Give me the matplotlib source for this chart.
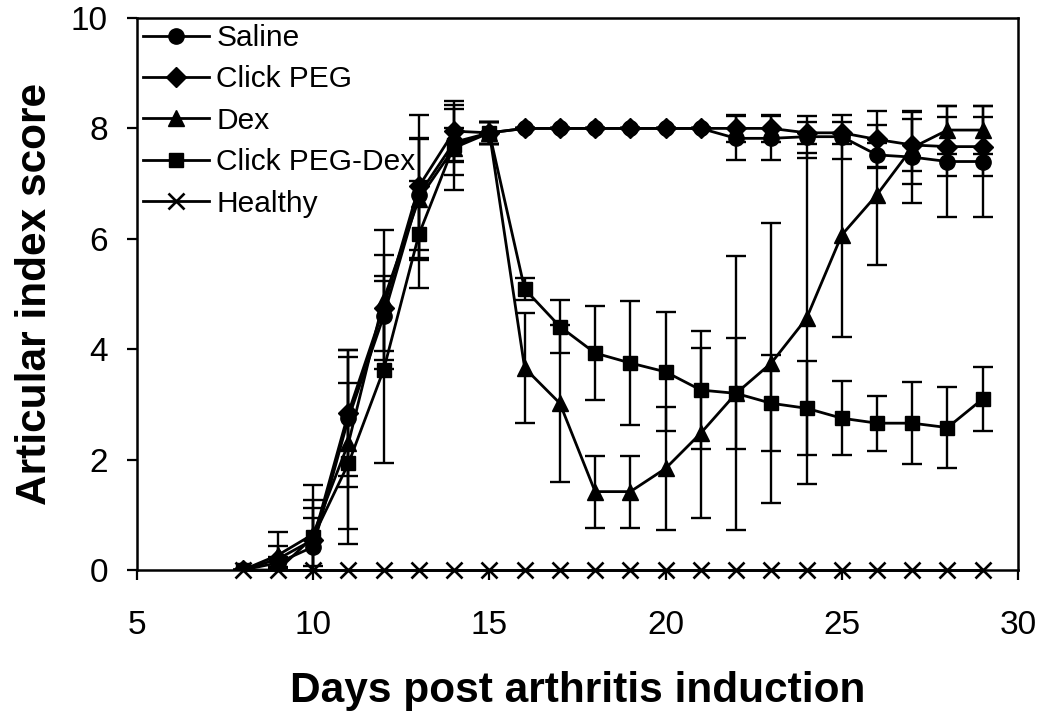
import matplotlib
matplotlib.use('Agg')
import matplotlib.pyplot as plt

plt.rcParams['font.family'] = ['Liberation Sans', 'DejaVu Sans']

days = [8, 9, 10, 11, 12, 13, 14, 15, 16, 17, 18, 19, 20, 21, 22, 23, 24, 25, 26, 27, 28, 29]

saline = [0, 0.13, 0.42, 2.75, 4.6, 6.8, 7.75, 7.92, 8.0, 8.0, 8.0, 8.0, 8.0, 8.0,
          7.82, 7.82, 7.85, 7.85, 7.52, 7.48, 7.4, 7.4]
saline_err = [0, 0.1, 0.52, 1.24, 0.63, 1.0, 0.6, 0.2, 0, 0, 0, 0, 0, 0,
              0.4, 0.4, 0.38, 0.4, 0.22, 0.83, 1.0, 1.0]

click_peg = [0, 0.2, 0.55, 2.85, 4.75, 6.95, 7.95, 7.92, 8.0, 8.0, 8.0, 8.0, 8.0, 8.0,
             8.0, 8.0, 7.92, 7.92, 7.8, 7.7, 7.67, 7.67]
click_peg_err = [0, 0.24, 0.72, 1.14, 0.95, 1.3, 0.54, 0.2, 0, 0, 0, 0, 0, 0,
                 0.25, 0.25, 0.2, 0.2, 0.52, 0.47, 0.53, 0.53]

dex = [0, 0.27, 0.65, 2.3, 4.9, 6.72, 7.65, 7.92, 3.66, 3.02, 1.42, 1.42, 1.84, 2.48,
       3.2, 3.75, 4.56, 6.07, 6.8, 7.65, 7.97, 7.97]
dex_err = [0, 0.41, 0.89, 1.55, 1.26, 1.1, 0.77, 0.2, 1.0, 1.42, 0.65, 0.65, 1.12, 1.54,
           2.48, 2.54, 3.0, 1.84, 1.27, 0.65, 0.44, 0.44]

peg_dex = [0, 0.0, 0.6, 1.93, 3.63, 6.08, 7.7, 7.92, 5.09, 4.41, 3.93, 3.75, 3.59, 3.26,
           3.2, 3.02, 2.93, 2.75, 2.66, 2.66, 2.58, 3.1]
peg_dex_err = [0, 0.05, 0.52, 1.46, 1.7, 0.97, 0.3, 0.2, 0.2, 0.48, 0.85, 1.12, 1.08, 1.07,
               1.0, 0.87, 0.85, 0.67, 0.5, 0.74, 0.73, 0.58]

healthy = [0] * len(days)

series = [
    ('Saline', saline, saline_err, 'o', 11),
    ('Click PEG', click_peg, click_peg_err, 'D', 10),
    ('Dex', dex, dex_err, '^', 12),
    ('Click PEG-Dex', peg_dex, peg_dex_err, 's', 10),
]

fig = plt.figure(figsize=(10.5, 7.23), dpi=100)
ax = fig.add_axes([0.1305, 0.2116, 0.839, 0.7635])

handles = []
for name, vals, err, mk, ms in series:
    ax.errorbar(days, vals, yerr=err, fmt='none', ecolor='black', elinewidth=1.7,
                capsize=7, capthick=1.7, zorder=2)
    h, = ax.plot(days, vals, color='black', lw=2.0, marker=mk, markersize=ms,
                 markerfacecolor='black', markeredgecolor='black', zorder=3, label=name)
    handles.append(h)

h, = ax.plot(days, healthy, color='black', lw=2.0, marker='x', markersize=11,
             markeredgewidth=1.9, zorder=3, label='Healthy', clip_on=False)
handles.append(h)

ax.set_xlim(5, 30)
ax.set_ylim(0, 10)
ax.set_xticks([5, 10, 15, 20, 25, 30])
ax.set_yticks([0, 2, 4, 6, 8, 10])

for s in ax.spines.values():
    s.set_linewidth(1.8)
ax.tick_params(axis='both', direction='out', length=7, width=1.6, labelsize=24)
ax.tick_params(axis='x', pad=22)
ax.tick_params(axis='y', pad=14)

ax.set_xlabel('Days post arthritis induction', fontsize=30.5, fontweight='bold')
ax.set_ylabel('Articular index score', fontsize=30.5, fontweight='bold')
ax.xaxis.set_label_coords(0.5, -0.183)
ax.yaxis.set_label_coords(-0.093, 0.5)

ax.legend(handles=handles, loc='upper left', bbox_to_anchor=(0.0, 1.0), frameon=False,
          fontsize=21.5, handlelength=2.2, handletextpad=0.25, labelspacing=0.45,
          borderaxespad=0.1, borderpad=0.1)

fig.savefig('out.png', dpi=100)
